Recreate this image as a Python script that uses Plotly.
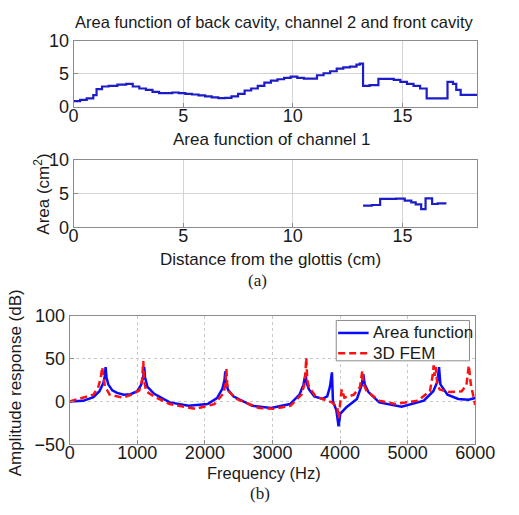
import plotly.graph_objects as go

# ---- data: area functions (cm, cm^2) ----
x_top = [0.0, 0.3, 0.6, 0.9, 1.05, 1.3, 1.6, 2.0, 2.4, 2.7, 3.0, 3.3, 3.6, 3.9, 4.2, 4.5, 4.8,
         5.1, 5.4, 5.7, 6.0, 6.3, 6.6, 6.9, 7.2, 7.5, 7.8, 8.1, 8.4, 8.7, 9.0, 9.3, 9.6, 9.9,
         10.2, 10.5, 10.8, 11.1, 11.4, 11.7, 12.0, 12.3, 12.6, 12.9, 13.05, 13.2, 13.5, 13.9,
         14.6, 14.9, 15.2, 15.5, 15.8, 16.1, 17.05, 17.3, 17.45, 17.65, 18.4]
y_top = [0.9, 1.1, 1.3, 1.8, 2.7, 3.1, 3.2, 3.4, 3.5, 3.1, 2.8, 2.6, 2.3, 2.1, 2.1, 2.2, 2.1,
         2.0, 1.9, 1.75, 1.6, 1.45, 1.35, 1.4, 1.6, 2.0, 2.5, 2.8, 3.2, 3.7, 4.0, 4.2, 4.4, 4.6,
         4.4, 4.3, 4.3, 4.8, 5.1, 5.4, 5.8, 6.0, 6.1, 6.4, 6.55, 3.2, 3.3, 4.25,
         4.1, 3.8, 3.5, 3.2, 2.8, 1.3, 3.8, 3.5, 2.6, 1.85, 1.85]

x_ch1 = [13.2, 13.6, 13.98, 14.7, 15.1, 15.4, 15.6, 15.85, 16.05, 16.35, 16.6, 17.0]
y_ch1 = [3.2, 3.3, 4.2, 4.25, 3.95, 3.7, 3.4, 2.7, 4.3, 3.45, 3.55, 3.55]

# ---- data: amplitude responses (Hz, dB) ----
f_af = [0, 200, 350, 440, 500, 520, 531, 545, 570, 630, 700, 800, 900, 1000, 1060, 1090, 1102,
        1115, 1150, 1250, 1480, 1760, 2040, 2180, 2260, 2290, 2302, 2312, 2340, 2420, 2700, 2980,
        3260, 3400, 3460, 3490, 3505, 3540, 3620, 3740, 3810, 3850, 3880, 3895, 3945, 3978, 4005,
        4090, 4250, 4320, 4345, 4365, 4420, 4580, 4910, 5240, 5380, 5440, 5465, 5485, 5590, 5750,
        5900, 6000]
a_af = [0, 0.8, 5, 12, 22, 30, 40, 28, 20, 13, 10, 8, 8.5, 12, 20, 30, 40,
        28, 17, 9, -1, -5, -3, 4, 15, 25, 35, 24, 14, 6, -5, -7.5,
        -3, 8, 20, 33, 22, 14, 6, 3, 6, 17, 34, 0, -10, -29, -14,
        -7, 3, 19, 32, 20, 11, -1, -6, 1, 12, 23, 40, 20, 8, 3,
        2, 4]

f_fem = [0, 350, 420, 460, 480, 500, 520, 590, 780, 920, 1030, 1070, 1088, 1100, 1130, 1245, 1480,
         1860, 2140, 2280, 2305, 2318, 2330, 2350, 2470, 2800, 3030, 3265, 3430, 3480, 3500, 3515,
         3540, 3640, 3880, 3960, 3980, 4005, 4025, 4065, 4205, 4295, 4330, 4350, 4395, 4580, 4815,
         5150, 5330, 5370, 5385, 5400, 5415, 5440, 5475, 5615, 5800, 5870, 5905, 5935, 5970, 6000]
a_fem = [0, 8, 16, 28, 40, 25, 18, 8, 4.5, 8, 13, 25, 47, 25, 12, 6, -3,
         -8.5, -3, 10, 22, 38, 20, 12, 3, -7.5, -8.5, -5, 8, 22, 51, 25,
         17, 6, -1, -7, -20, 1, 14, 4.5, 8, 17, 36, 20, 12, 1, -3,
         1, 12, 30, 42, 30, 40, 19, 14, 11, 12, 19, 42, 20, 8, -4]

legend_names = ["Area function", "3D FEM"]

W, H = 519, 515
FONT = "Liberation Sans, Arial, sans-serif"
SERIF = "Liberation Serif, Times New Roman, serif"
TXT = "#1a1a1a"
BLUE_DARK = "#1c1cc8"
BLUE = "#0a0aff"
RED = "#ff1010"
DASH = "7px,4px"

fig = go.Figure()
fig.add_trace(go.Scatter(x=x_top, y=y_top, mode="lines", line=dict(color=BLUE_DARK, width=2.2, shape="hv"),
                         showlegend=False, xaxis="x", yaxis="y"))
fig.add_trace(go.Scatter(x=x_ch1, y=y_ch1, mode="lines", line=dict(color=BLUE_DARK, width=2.2, shape="hv"),
                         showlegend=False, xaxis="x2", yaxis="y2"))
fig.add_trace(go.Scatter(x=f_af, y=a_af, mode="lines", name=legend_names[0], showlegend=False,
                         line=dict(color=BLUE, width=2.5), xaxis="x3", yaxis="y3"))
fig.add_trace(go.Scatter(x=f_fem, y=a_fem, mode="lines", name=legend_names[1], showlegend=False,
                         line=dict(color=RED, width=2.5, dash=DASH), xaxis="x3", yaxis="y3"))

def px_dom(a, b):
    return [a / W, b / W]

def py_dom(top, bot):
    return [1 - bot / H, 1 - top / H]

common = dict(showline=True, mirror=True, linecolor="#8c8c8c", linewidth=1, ticks="inside",
              ticklen=4, tickcolor="#8c8c8c", zeroline=False,
              tickfont=dict(family=FONT, size=18, color=TXT))
solid_grid = dict(showgrid=True, gridcolor="#d4d4d4", gridwidth=1)
dot_grid = dict(showgrid=True, gridcolor="#c8c8c8", gridwidth=1, griddash="dot")
XSHIFT = -8

fig.update_layout(
    width=W, height=H, margin=dict(l=0, r=0, t=0, b=0),
    paper_bgcolor="white", plot_bgcolor="white",
    font=dict(family=FONT, color=TXT), showlegend=False,
    xaxis=dict(domain=px_dom(72, 496), range=[0, 18.4], tickvals=[0, 5, 10, 15], anchor="y",
               ticklabelstandoff=XSHIFT, **common, **solid_grid),
    yaxis=dict(domain=py_dom(32, 101), range=[0, 10], tickvals=[0, 5, 10], anchor="x",
               **common, **solid_grid),
    xaxis2=dict(domain=px_dom(72, 496), range=[0, 18.4], tickvals=[0, 5, 10, 15], anchor="y2",
                ticklabelstandoff=XSHIFT, **common, **solid_grid),
    yaxis2=dict(domain=py_dom(156, 226), range=[0, 10], tickvals=[0, 5, 10], anchor="x2",
                **common, **solid_grid),
    xaxis3=dict(domain=px_dom(68, 494), range=[0, 6000], tickvals=[0, 1000, 2000, 3000, 4000, 5000, 6000],
                anchor="y3", ticklabelstandoff=XSHIFT, **common, **dot_grid),
    yaxis3=dict(domain=py_dom(318, 452), range=[-50, 100], tickvals=[-50, 0, 50, 100], anchor="x3",
                **common, **dot_grid),
)

def ann(text, x, y, size=17, angle=0, family=FONT, xanchor="center"):
    fig.add_annotation(text=text, x=x / W, y=1 - y / H, xref="paper", yref="paper",
                       showarrow=False, textangle=angle, xanchor=xanchor, yanchor="middle",
                       font=dict(family=family, size=size, color=TXT))

ann("Area function of back cavity, channel 2 and front cavity", 283, 13, size=16.5)
ann("Area function of channel 1", 280, 135)
ann("Area (cm<sup>2</sup>)", 38, 192, angle=-90)
ann("Distance from the glottis (cm)", 279, 260)
ann("(a)", 265, 281, size=17, family=SERIF)
ann("Amplitude response (dB)", 12, 388, angle=-90)
ann("Frequency (Hz)", 272, 482, size=16.5)
ann("(b)", 268, 503, size=17, family=SERIF)

# legend box (drawn as decoration in paper pixels)
def pp(x, y):
    return x / W, 1 - y / H

x0, y0 = pp(348, 323)
x1, y1 = pp(488, 365)
fig.add_shape(type="rect", xref="paper", yref="paper", x0=x0, y0=y1, x1=x1, y1=y0,
              fillcolor="white", line=dict(color="#8c8c8c", width=1), layer="above")
for i, (name, col, dash) in enumerate(zip(legend_names, [BLUE, RED], ["solid", DASH])):
    yy = 336 + i * 21
    a, b = pp(350, yy)
    c, _ = pp(382, yy)
    fig.add_shape(type="line", xref="paper", yref="paper", x0=a, y0=b, x1=c, y1=b,
                  line=dict(color=col, width=2.5, dash=dash), layer="above")
    ann(name, 385, yy, size=17, xanchor="left")

fig.write_html("out.html")
